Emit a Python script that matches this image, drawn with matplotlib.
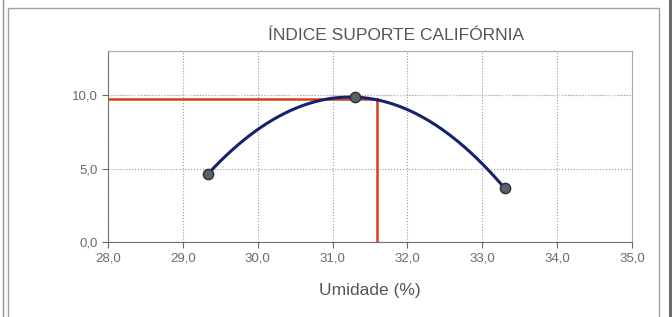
import numpy as np
import matplotlib.pyplot as plt
from matplotlib.patches import Rectangle
from matplotlib.lines import Line2D

# ensaio ISC
umidade = [29.33, 31.30, 33.30]
isc = [4.6, 9.86, 3.65]
umidade_otima = 31.6
isc_otimo = 9.7

x_ticks = [28, 29, 30, 31, 32, 33, 34, 35]
y_ticks = [0, 5, 10]

plt.rcParams['font.family'] = ['Liberation Sans', 'DejaVu Sans']

fig = plt.figure(figsize=(6.72, 3.17), dpi=100)
ax = fig.add_axes([108/672, 1 - 242/317, (632-108)/672, (242-51)/317])

# curva polinomial de 2a ordem (linha de tendencia)
coef = np.polyfit(umidade, isc, 2)
xs = np.linspace(min(umidade), max(umidade), 200)
ax.plot(xs, np.polyval(coef, xs), color='#14236b', lw=2.2, zorder=4)

ax.plot([28, umidade_otima], [isc_otimo, isc_otimo], color='#d4401a', lw=1.8, zorder=3)
ax.plot([umidade_otima, umidade_otima], [0, isc_otimo], color='#d4401a', lw=1.8, zorder=3)
ax.axhline(10, color='#e6cf9a', lw=0.9, ls=':', zorder=2)

ax.scatter(umidade, isc, s=55, color='#5a5f6a', edgecolor='#2b2f3a', lw=1.0, zorder=5)

ax.set_xlim(28, 35)
ax.set_ylim(0, 13)
ax.set_xticks(x_ticks)
ax.set_yticks(y_ticks)
ax.set_xticklabels([f'{v:.1f}'.replace('.', ',') for v in x_ticks])
ax.set_yticklabels([f'{v:.1f}'.replace('.', ',') for v in y_ticks])
ax.tick_params(colors='#6a6a6a', labelsize=9.5, length=4, width=0.8, direction='out')
ax.grid(True, color='#9a9a9a', ls=':', lw=0.8)
for s in ax.spines.values():
    s.set_color('#a8a8a8')
    s.set_linewidth(0.8)
ax.spines['left'].set_color('#707070')
ax.spines['bottom'].set_color('#707070')

fig.text(396/672, 1 - 35/317, 'ÍNDICE SUPORTE CALIFÓRNIA', ha='center', va='center',
         fontsize=12.5, color='#555555')
fig.text(370/672, 1 - 290/317, 'Umidade (%)', ha='center', va='center',
         fontsize=12.5, color='#555555')

# moldura externa
fig.patches.append(Rectangle((8/672, -0.05), (659-8)/672, 1.05 - 8/317, transform=fig.transFigure,
                             fill=False, edgecolor='#a0a0a0', lw=1.0))
fig.lines.append(Line2D([3/672, 3/672], [0, 1], transform=fig.transFigure, color='#909090', lw=1.0))
fig.lines.append(Line2D([669.5/672, 669.5/672], [0, 1], transform=fig.transFigure, color='#606060', lw=2.0))

fig.savefig('out.png', dpi=100)
